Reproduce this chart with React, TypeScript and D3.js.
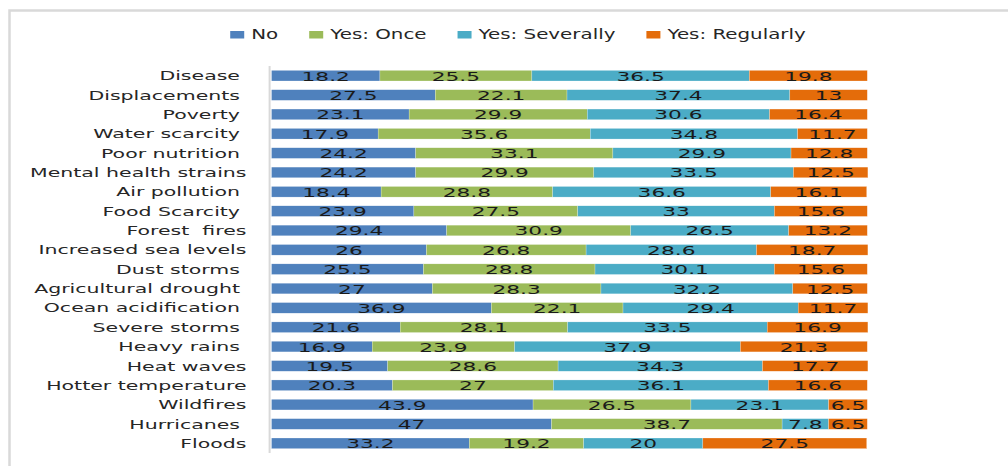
import React, { useEffect, useRef } from "react";
import * as d3 from "d3";

const categories = [
  "Disease ", "Displacements ", "Poverty ", "Water scarcity ", "Poor nutrition ",
  "Mental health strains", "Air pollution ", "Food Scarcity ", "Forest  fires",
  "Increased sea levels", "Dust storms ", "Agricultural drought ", "Ocean acidification ",
  "Severe storms ", "Heavy rains ", "Heat waves", "Hotter temperature", "Wildfires",
  "Hurricanes ", "Floods",
];
const seriesNames = ["No", "Yes: Once", "Yes: Severally", "Yes: Regularly"];
const colors = ["#4F81BD", "#9BBB59", "#4BACC6", "#E46C0A"];

const no = [18.2, 27.5, 23.1, 17.9, 24.2, 24.2, 18.4, 23.9, 29.4, 26, 25.5, 27, 36.9, 21.6, 16.9, 19.5, 20.3, 43.9, 47, 33.2];
const yesOnce = [25.5, 22.1, 29.9, 35.6, 33.1, 29.9, 28.8, 27.5, 30.9, 26.8, 28.8, 28.3, 22.1, 28.1, 23.9, 28.6, 27, 26.5, 38.7, 19.2];
const yesSeverally = [36.5, 37.4, 30.6, 34.8, 29.9, 33.5, 36.6, 33, 26.5, 28.6, 30.1, 32.2, 29.4, 33.5, 37.9, 34.3, 36.1, 23.1, 7.8, 20];
const yesRegularly = [19.8, 13, 16.4, 11.7, 12.8, 12.5, 16.1, 15.6, 13.2, 18.7, 15.6, 12.5, 11.7, 16.9, 21.3, 17.7, 16.6, 6.5, 6.5, 27.5];

const W = 1008;
const H = 466;
const FONT = "'DejaVu Sans', sans-serif";

export default function App() {
  const ref = useRef<SVGSVGElement | null>(null);

  useEffect(() => {
    const svg = d3.select(ref.current);
    svg.selectAll("*").remove();

    const seriesVals = [no, yesOnce, yesSeverally, yesRegularly];
    const table = categories.map((c, i) => {
      const row: any = { cat: c };
      seriesNames.forEach((s, j) => (row[s] = seriesVals[j][i]));
      return row;
    });
    const stacked = d3.stack().keys(seriesNames)(table as any);

    const x = d3.scaleLinear().domain([0, 100]).range([271.5, 867.3]);
    const y = d3.scaleBand<string>()
      .domain(categories)
      .range([66, 453])
      .paddingInner(0.45)
      .paddingOuter(0.225);

    // chart frame (clipped by viewport)
    svg.append("rect")
      .attr("x", 9.5).attr("y", 10.5)
      .attr("width", W + 20).attr("height", H + 20)
      .attr("fill", "#fff")
      .attr("stroke", "#d9d9d9").attr("stroke-width", 2.5);

    // bars
    const layers = svg.append("g").selectAll("g")
      .data(stacked).enter().append("g")
      .attr("fill", (_d, i) => colors[i]);
    layers.selectAll("rect")
      .data((d: any) => d.map((p: any) => ({ p, key: d.key })))
      .enter().append("rect")
      .attr("x", (d: any) => x(d.p[0]))
      .attr("y", (d: any) => y(d.p.data.cat)!)
      .attr("width", (d: any) => x(d.p[1]) - x(d.p[0]))
      .attr("height", y.bandwidth())
      .attr("stroke", "#ffffff").attr("stroke-width", 0.4).attr("stroke-opacity", 0.6);

    // data labels
    const kData = 1.78;
    stacked.forEach((layer: any) => {
      layer.forEach((p: any) => {
        const cx = (x(p[0]) + x(p[1])) / 2;
        const cy = y(p.data.cat)! + y.bandwidth() / 2;
        const v = p[1] - p[0];
        svg.append("g")
          .attr("transform", `translate(${cx},${cy + 5}) scale(${kData},1)`)
          .append("text")
          .attr("text-anchor", "middle")
          .attr("font-family", FONT)
          .attr("font-size", 12.2)
          .attr("fill", "#1a1a1a")
          .text(d3.format("~g")(+v.toFixed(1)));
      });
    });

    // vertical axis line
    svg.append("line")
      .attr("x1", 269.6).attr("x2", 269.6)
      .attr("y1", 66).attr("y2", 453)
      .attr("stroke", "#d9d9d9").attr("stroke-width", 2);

    // category labels
    const kLab = 1.64;
    categories.forEach((c) => {
      const cy = y(c)! + y.bandwidth() / 2;
      svg.append("g")
        .attr("transform", `translate(246.5,${cy + 4.6}) scale(${kLab},1)`)
        .append("text")
        .attr("text-anchor", "end")
        .attr("font-family", FONT)
        .attr("font-size", 12.5)
        .attr("fill", "#262626")
        .style("white-space", "pre")
        .text(c);
    });

    // legend
    const kLeg = 1.47;
    const legG = svg.append("g");
    const items: { g: any; w: number }[] = [];
    seriesNames.forEach((s, i) => {
      const g = legG.append("g");
      g.append("rect")
        .attr("x", 0).attr("y", 31)
        .attr("width", 14).attr("height", 7.5)
        .attr("fill", colors[i]);
      const t = g.append("g").attr("transform", `translate(21,39) scale(${kLeg},1)`)
        .append("text")
        .attr("font-family", FONT)
        .attr("font-size", 13.5)
        .attr("fill", "#262626")
        .text(s);
      const tw = (t.node() as SVGTextElement).getComputedTextLength() * kLeg;
      items.push({ g, w: 21 + tw });
    });
    const gap = 31;
    const total = d3.sum(items, (d) => d.w) + gap * (items.length - 1);
    let cur = 518 - total / 2;
    items.forEach((it) => {
      it.g.attr("transform", `translate(${cur},0)`);
      cur += it.w + gap;
    });
  }, []);

  return (
    <svg
      ref={ref}
      width={W}
      height={H}
      style={{ position: "absolute", left: 0, top: 0, display: "block", background: "#fff" }}
    />
  );
}
